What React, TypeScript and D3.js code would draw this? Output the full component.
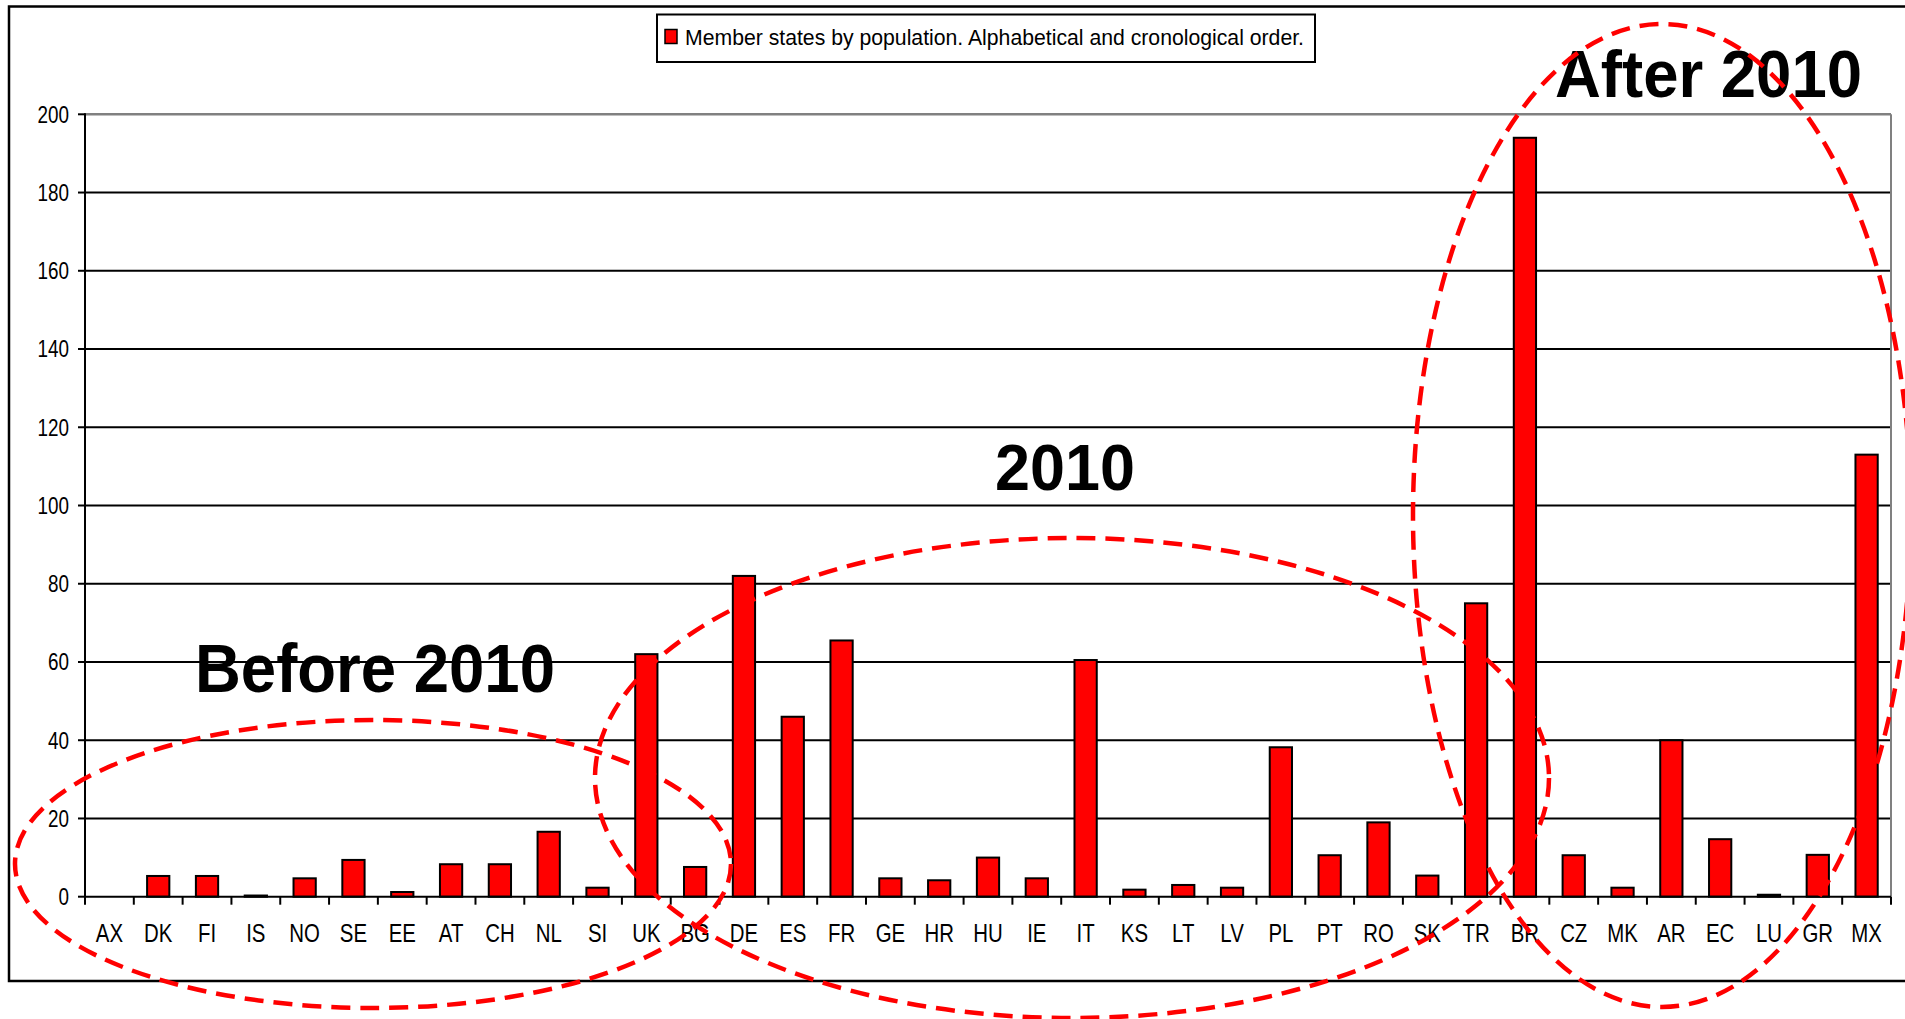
import React from "react";
import * as d3 from "d3";

const categories = ["AX","DK","FI","IS","NO","SE","EE","AT","CH","NL","SI","UK","BG","DE","ES","FR","GE","HR","HU","IE","IT","KS","LT","LV","PL","PT","RO","SK","TR","BR","CZ","MK","AR","EC","LU","GR","MX"];
const population = [0, 5.3, 5.3, 0.3, 4.7, 9.4, 1.2, 8.3, 8.3, 16.6, 2.3, 62, 7.6, 82, 46, 65.5, 4.7, 4.2, 10, 4.7, 60.5, 1.8, 3.0, 2.3, 38.2, 10.6, 19, 5.4, 75, 194, 10.6, 2.3, 40, 14.7, 0.5, 10.7, 113];
const yTicks = [0, 20, 40, 60, 80, 100, 120, 140, 160, 180, 200];
const legendLabel = "Member states by population. Alphabetical and cronological order.";
const annotationBefore = "Before 2010";
const annotationDuring = "2010";
const annotationAfter = "After 2010";

const FONT = "'Liberation Sans', Arial, Helvetica, sans-serif";

export default function App() {
  const W = 1905, H = 1019;
  const plot = { left: 85, right: 1891, top: 114.3, bottom: 896.7 };
  const x = d3.scaleBand<string>().domain(categories).range([plot.left, plot.right]).padding(0);
  const y = d3.scaleLinear().domain([0, 200]).range([plot.bottom, plot.top]);
  const barW = x.bandwidth() * 0.456;
  const boundaries = d3.range(categories.length + 1).map((i) => plot.left + i * x.step());
  const red = "#ff0000";

  return (
    <svg width={W} height={H} viewBox={`0 0 ${W} ${H}`}
      style={{ position: "absolute", left: 0, top: 0, display: "block", background: "#fff" }}
      fontFamily={FONT}>
      <rect x={0} y={0} width={W} height={H} fill="#fff" />
      {/* outer chart frame (right edge cut off) */}
      <rect x={9} y={6.5} width={W + 20} height={974.5} fill="none" stroke="#000" strokeWidth={2.5} />

      {/* gridlines */}
      {yTicks.filter((t) => t > 0 && t < 200).map((t) => (
        <line key={t} x1={plot.left} x2={plot.right} y1={y(t)} y2={y(t)} stroke="#000" strokeWidth={2} />
      ))}
      {/* plot area border top & right (gray) */}
      <line x1={plot.left} x2={plot.right} y1={y(200)} y2={y(200)} stroke="#808080" strokeWidth={2.5} />
      <line x1={plot.right} x2={plot.right} y1={y(200)} y2={y(0)} stroke="#808080" strokeWidth={2} />

      {/* bars */}
      {categories.map((c, i) => {
        const v = population[i];
        if (v <= 0) return null;
        const cx = (x(c) as number) + x.bandwidth() / 2;
        return (
          <rect key={c} x={cx - barW / 2} y={y(v)} width={barW} height={y(0) - y(v)}
            fill={red} stroke="#000" strokeWidth={2} />
        );
      })}

      {/* axes */}
      <line x1={plot.left} x2={plot.left} y1={y(200) - 1} y2={y(0)} stroke="#000" strokeWidth={2} />
      <line x1={plot.left} x2={plot.right} y1={y(0)} y2={y(0)} stroke="#000" strokeWidth={2} />
      {yTicks.map((t) => (
        <g key={t}>
          <line x1={plot.left - 7} x2={plot.left} y1={y(t)} y2={y(t)} stroke="#000" strokeWidth={2} />
          <text transform={`translate(69,${y(t) + 8.3}) scale(0.82,1)`} textAnchor="end" fontSize={23} fill="#000">{t}</text>
        </g>
      ))}
      {boundaries.map((bx, i) => (
        <line key={i} x1={bx} x2={bx} y1={y(0)} y2={y(0) + 8} stroke="#000" strokeWidth={2} />
      ))}
      {categories.map((c) => {
        const cx = (x(c) as number) + x.bandwidth() / 2;
        return (
          <text key={c} transform={`translate(${cx},942) scale(0.8,1)`} textAnchor="middle" fontSize={25.5} fill="#000">{c}</text>
        );
      })}

      {/* legend */}
      <rect x={657} y={14.5} width={658} height={47.5} fill="#fff" stroke="#000" strokeWidth={2} />
      <rect x={665} y={29.5} width={12} height={14} fill={red} stroke="#000" strokeWidth={1.5} />
      <text x={685} y={45} fontSize={22} textLength={619} lengthAdjust="spacingAndGlyphs" fill="#000">{legendLabel}</text>

      {/* annotations */}
      <text x={195} y={692} fontSize={68} fontWeight="bold" textLength={360} lengthAdjust="spacingAndGlyphs" fill="#000">{annotationBefore}</text>
      <text x={995} y={490} fontSize={65} fontWeight="bold" textLength={140} lengthAdjust="spacingAndGlyphs" fill="#000">{annotationDuring}</text>
      <text x={1555} y={97} fontSize={66} fontWeight="bold" textLength={307} lengthAdjust="spacingAndGlyphs" fill="#000">{annotationAfter}</text>

      {/* dashed ellipses */}
      <ellipse cx={373} cy={864} rx={358} ry={144} fill="none" stroke={red} strokeWidth={4.5} strokeDasharray="19 10" />
      <ellipse cx={1072} cy={778} rx={477} ry={240} fill="none" stroke={red} strokeWidth={4.5} strokeDasharray="19 10" />
      <ellipse cx={1662} cy={515.5} rx={249} ry={491.5} fill="none" stroke={red} strokeWidth={4.5} strokeDasharray="19 10" />
    </svg>
  );
}
